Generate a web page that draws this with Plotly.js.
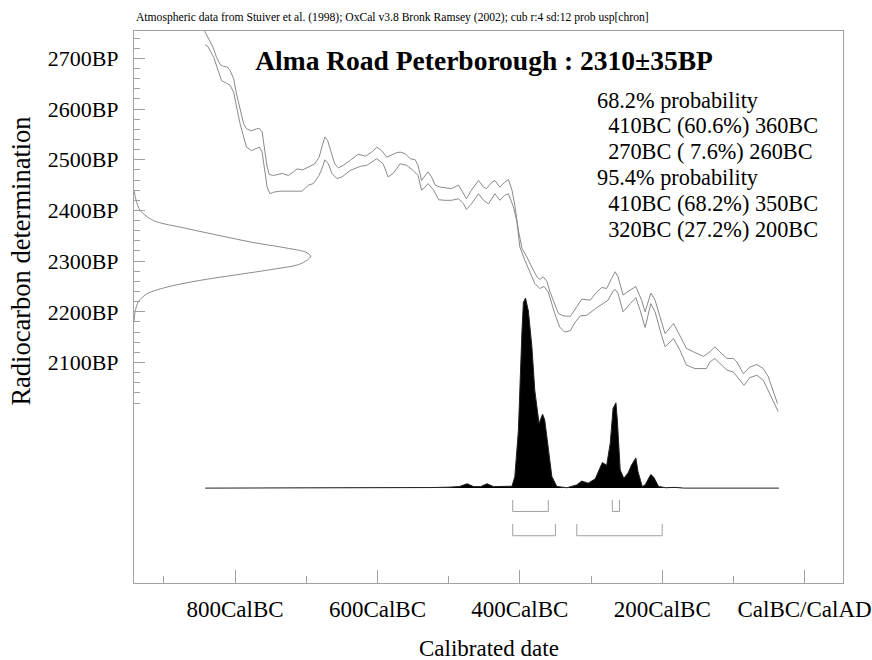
<!DOCTYPE html>
<html><head><meta charset="utf-8">
<script src="https://cdn.plot.ly/plotly-3.0.1.min.js"></script>
<style>html,body{margin:0;padding:0;background:#fff}#chart{width:872px;height:660px}</style>
</head><body><div id="chart"></div>
<script>
// Calibration curve (upper and lower envelope), calendar year (negative = BC) vs BP
const upperYears = [-844,-838,-831,-826,-821,-816,-811,-807,-802,-798,-793,-788,-784,-777,-770,-766,-762,-759,-755,-752,-746,-734,-725,-718,-713,-705,-697,-688,-682,-677,-674,-670,-666,-660,-655,-648,-638,-627,-617,-608,-601,-594,-587,-580,-573,-568,-561,-554,-547,-543,-538,-533,-529,-524,-519,-512,-505,-496,-486,-482,-475,-468,-458,-451,-447,-439,-435,-428,-421,-416,-411,-407,-402,-397,-390,-383,-376,-372,-367,-362,-358,-353,-346,-339,-329,-320,-313,-301,-292,-285,-278,-271,-266,-262,-255,-245,-237,-229,-224,-216,-210,-203,-196,-184,-175,-166,-156,-142,-133,-126,-119,-109,-100,-95,-86,-77,-67,-58,-51,-44,-38];
const upperBP = [2757,2742,2722,2702,2688,2684,2683,2676,2660,2630,2597,2571,2561,2557,2561,2562,2555,2525,2486,2471,2469,2473,2469,2476,2482,2480,2486,2492,2505,2532,2545,2538,2518,2492,2484,2489,2499,2511,2507,2515,2525,2518,2505,2509,2514,2515,2512,2502,2500,2489,2459,2469,2476,2466,2450,2446,2445,2443,2450,2440,2423,2440,2459,2446,2443,2456,2459,2446,2456,2461,2440,2410,2361,2325,2308,2288,2269,2264,2269,2260,2241,2223,2197,2192,2191,2210,2225,2223,2239,2248,2246,2266,2279,2269,2233,2243,2250,2223,2200,2237,2223,2190,2157,2177,2154,2128,2121,2112,2121,2131,2121,2108,2108,2101,2078,2091,2096,2088,2072,2045,2019];
const lowerYears = [-842,-838,-830,-823,-819,-812,-807,-802,-798,-793,-788,-784,-777,-770,-766,-762,-759,-755,-751,-746,-737,-723,-706,-702,-697,-690,-682,-677,-674,-669,-664,-657,-650,-638,-624,-615,-601,-592,-585,-578,-568,-559,-550,-543,-538,-533,-529,-521,-514,-505,-496,-486,-479,-475,-468,-458,-451,-444,-435,-428,-421,-416,-409,-404,-400,-393,-386,-379,-372,-366,-360,-351,-344,-337,-329,-322,-315,-306,-294,-283,-276,-269,-266,-262,-255,-245,-237,-231,-224,-216,-210,-203,-196,-184,-175,-166,-154,-138,-133,-126,-116,-109,-100,-93,-85,-77,-67,-58,-51,-44,-37];
const lowerBP = [2727,2723,2702,2673,2656,2651,2647,2633,2604,2571,2545,2525,2518,2522,2525,2515,2486,2446,2433,2436,2438,2438,2438,2443,2450,2453,2469,2486,2500,2492,2473,2463,2466,2479,2487,2489,2502,2492,2466,2473,2492,2489,2479,2469,2440,2446,2453,2440,2421,2420,2420,2423,2413,2402,2413,2433,2420,2413,2433,2420,2430,2433,2407,2377,2328,2302,2279,2256,2246,2250,2239,2197,2170,2160,2163,2180,2192,2193,2206,2216,2223,2241,2244,2236,2200,2216,2228,2203,2169,2216,2200,2164,2131,2147,2124,2095,2088,2088,2101,2108,2095,2085,2081,2068,2055,2070,2075,2065,2045,2022,2003];

const measBP = [2440,2420,2400,2380,2365,2350,2337,2326,2318,2310,2302,2293,2283,2273,2263,2250,2236,2220,2200,2180];
const measProb = [0.0,0.012,0.035,0.11,0.29,0.49,0.67,0.86,0.97,1.0,0.98,0.93,0.77,0.58,0.39,0.2,0.075,0.025,0.006,0.0];

// Calibrated date distribution (relative probability)
const calYears = [-842,-540,-526,-500,-485,-474,-465,-455,-446,-437,-425,-414,-411,-407,-402,-397,-395,-392,-388,-383,-379,-373,-368,-365,-360,-355,-348,-334,-320,-313,-304,-294,-287,-284,-278,-273,-269,-265,-263,-259,-254,-248,-243,-237,-234,-228,-224,-216,-212,-205,-195,-182,-170,-36];
const calProb = [0,0,0.003,0.005,0.008,0.023,0.008,0.008,0.023,0.008,0.009,0.008,0.010,0.061,0.304,0.827,0.977,1.000,0.932,0.742,0.515,0.340,0.389,0.358,0.218,0.061,0.009,0.002,0.017,0.037,0.026,0.049,0.110,0.135,0.120,0.236,0.419,0.449,0.358,0.096,0.052,0.079,0.122,0.159,0.087,0.009,0.017,0.072,0.058,0.009,0.002,0.004,0,0];

// Highest probability ranges
const range68 = [[-410,-360],[-270,-260]];
const range95 = [[-410,-350],[-320,-200]];

// Axis ticks
const xTickVals = [-800,-600,-400,-200,0];
const xTickText = ['800CalBC','600CalBC','400CalBC','200CalBC','CalBC/CalAD'];
const xMinorVals = [-900,-700,-500,-300,-100];
const yTickVals = [2100,2200,2300,2400,2500,2600,2700];
const yTickText = ['2100BP','2200BP','2300BP','2400BP','2500BP','2600BP','2700BP'];
const yMinorVals = [2020,2040,2060,2080,2120,2140,2160,2180,2220,2240,2260,2280,2320,2340,2360,2380,2420,2440,2460,2480,2520,2540,2560,2580,2620,2640,2660,2680,2720,2740];

const titleText = 'Alma Road Peterborough : 2310±35BP';
const captionText = 'Atmospheric data from Stuiver et al. (1998); OxCal v3.8 Bronk Ramsey (2002); cub r:4 sd:12 prob usp[chron]';
const probLines = ['68.2% probability','\u00a0\u00a0410BC (60.6%) 360BC','\u00a0\u00a0270BC (\u00a07.6%) 260BC','95.4% probability','\u00a0\u00a0410BC (68.2%) 350BC','\u00a0\u00a0320BC (27.2%) 200BC'];

const FONT = 'Liberation Serif, Times New Roman, serif';
const CURVE = '#8a8a8a';
const FRAME = '#a0a0a0';

const traces = [
  {x: upperYears, y: upperBP, mode: 'lines', line: {color: CURVE, width: 1}, hoverinfo: 'skip'},
  {x: lowerYears, y: lowerBP, mode: 'lines', line: {color: CURVE, width: 1}, hoverinfo: 'skip'},
  {x: measProb, y: measBP, xaxis: 'x2', yaxis: 'y', mode: 'lines', line: {color: CURVE, width: 1, shape: 'spline', smoothing: 0.8}, hoverinfo: 'skip'},
  {x: calYears, y: calProb, xaxis: 'x', yaxis: 'y2', mode: 'lines', fill: 'tozeroy', fillcolor: '#000', line: {color: '#222', width: 1}, hoverinfo: 'skip'}
];

// bracket shapes for ranges (x from data, vertical placement is layout)
const shapes = [];
function addBrackets(ranges, top, bottom) {
  ranges.forEach(r => {
    const s = {type: 'line', xref: 'x', yref: 'paper', line: {color: FRAME, width: 1}};
    shapes.push(Object.assign({}, s, {x0: r[0], x1: r[0], y0: top, y1: bottom}));
    shapes.push(Object.assign({}, s, {x0: r[1], x1: r[1], y0: top, y1: bottom}));
    shapes.push(Object.assign({}, s, {x0: r[0], x1: r[1], y0: bottom, y1: bottom}));
  });
}
addBrackets(range68, 0.1507, 0.1296);
addBrackets(range95, 0.1068, 0.0856);

const annotations = [];
probLines.forEach((t, i) => {
  annotations.push({text: t, xref: 'paper', yref: 'paper', x: 0.6502, y: 0.875 - i * 0.0471,
    xanchor: 'left', yanchor: 'middle', showarrow: false, font: {family: FONT, size: 22.3, color: '#000'}});
});
annotations.push({text: captionText, xref: 'paper', yref: 'paper', x: 0, y: 1.0245, xanchor: 'left', yanchor: 'middle',
  showarrow: false, font: {family: FONT, size: 11.6, color: '#000'}});
annotations.push({text: 'Calibrated date', xref: 'paper', yref: 'paper', x: 0.5, y: -0.1178, xanchor: 'center', yanchor: 'middle',
  showarrow: false, font: {family: FONT, size: 23, color: '#000'}});
annotations.push({text: 'Radiocarbon determination', xref: 'paper', yref: 'paper', x: -0.16, y: 0.5833, xanchor: 'center', yanchor: 'middle',
  textangle: -90, showarrow: false, font: {family: FONT, size: 26.5, color: '#000'}});

const layout = {
  width: 872, height: 660,
  margin: {l: 134, r: 29, t: 31, b: 77},
  paper_bgcolor: '#fff', plot_bgcolor: '#fff',
  showlegend: false,
  font: {family: FONT, color: '#000'},
  title: {text: titleText, xref: 'paper', x: 0.4937, xanchor: 'center', yref: 'container', y: 0.909, yanchor: 'middle',
    font: {family: FONT, size: 27.5, weight: 700, color: '#000'}},
  xaxis: {range: [-942, 54], showgrid: false, zeroline: false, showline: true, mirror: true, linecolor: FRAME, linewidth: 1,
    ticks: 'inside', ticklen: 13, tickwidth: 1, tickcolor: FRAME, tickmode: 'array', tickvals: xTickVals, ticktext: xTickText,
    tickfont: {family: FONT, size: 23, color: '#000'}, ticklabelstandoff: 5,
    minor: {tickmode: 'array', tickvals: xMinorVals, ticks: 'inside', ticklen: 7, tickwidth: 1, tickcolor: FRAME, showgrid: false}},
  xaxis2: {overlaying: 'x', range: [0, 4.012], visible: false, showgrid: false, zeroline: false},
  yaxis: {range: [1665, 2754], showgrid: false, zeroline: false, showline: true, mirror: true, linecolor: FRAME, linewidth: 1,
    ticks: 'inside', ticklen: 11, tickwidth: 1, tickcolor: FRAME, tickmode: 'array', tickvals: yTickVals, ticktext: yTickText,
    tickfont: {family: FONT, size: 22, color: '#000'}, ticklabelstandoff: 10,
    minor: {tickmode: 'array', tickvals: yMinorVals, ticks: 'inside', ticklen: 6, tickwidth: 1, tickcolor: FRAME, showgrid: false}},
  yaxis2: {overlaying: 'y', range: [-0.4992, 2.405], visible: false, showgrid: false, zeroline: false},
  shapes: shapes,
  annotations: annotations
};

Plotly.newPlot('chart', traces, layout, {displayModeBar: false, staticPlot: true});
</script>
</body></html>
